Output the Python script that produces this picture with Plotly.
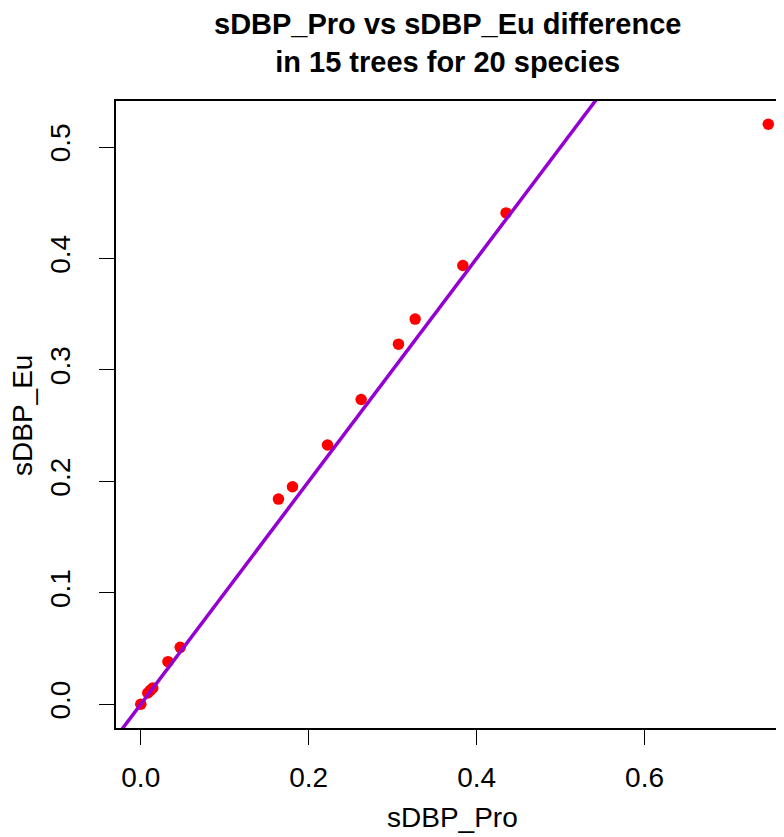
import plotly.graph_objects as go

# Data
sdbp_pro = [0.000, 0.0083, 0.0113, 0.0143, 0.0324, 0.0470, 0.1640, 0.1807,
            0.2224, 0.2625, 0.3069, 0.3268, 0.3836, 0.4351, 0.7474]
sdbp_eu = [0.000, 0.0101, 0.0124, 0.0146, 0.0382, 0.0511, 0.1841, 0.1952,
           0.2326, 0.2735, 0.3231, 0.3456, 0.3937, 0.4409, 0.5204]

# reference line y = intercept + slope * x
abline_intercept = 0.0
abline_slope = 1.0

x_ticks = [0.0, 0.2, 0.4, 0.6]
x_tick_labels = ["0.0", "0.2", "0.4", "0.6"]
y_ticks = [0.0, 0.1, 0.2, 0.3, 0.4, 0.5]
y_tick_labels = ["0.0", "0.1", "0.2", "0.3", "0.4", "0.5"]

x_range = [-0.0295, 0.7661]
y_range = [-0.0213, 0.5413]

FONT = "Liberation Sans, Arial, Helvetica, sans-serif"

line_x = [x_range[0] - 0.1, x_range[1] + 0.1]
line_y = [abline_intercept + abline_slope * v for v in line_x]

fig = go.Figure()
fig.add_trace(go.Scatter(
    x=sdbp_pro, y=sdbp_eu, mode="markers",
    marker=dict(color="#FF0000", size=11.5, line=dict(width=0)),
    showlegend=False, hoverinfo="skip"))
fig.add_trace(go.Scatter(
    x=line_x, y=line_y, mode="lines",
    line=dict(color="#9400D3", width=3.5),
    showlegend=False, hoverinfo="skip"))

fig.update_layout(
    width=776, height=829,
    margin=dict(l=108, r=0, t=93, b=109),
    paper_bgcolor="white", plot_bgcolor="white",
    font=dict(family=FONT, color="black", size=28),
    showlegend=False,
    xaxis=dict(range=x_range, tickvals=x_ticks, ticktext=x_tick_labels,
               ticks="outside", ticklen=15, tickwidth=1, tickcolor="black",
               showline=True, linecolor="black", linewidth=1.5, mirror=True,
               showgrid=False, zeroline=False,
               tickfont=dict(size=28, family=FONT, color="black"),
               ticklabelstandoff=9),
    yaxis=dict(range=y_range, tickvals=y_ticks, ticktext=y_tick_labels,
               ticks="outside", ticklen=15, tickwidth=1, tickcolor="black",
               showline=True, linecolor="black", linewidth=1.5, mirror=False,
               showgrid=False, zeroline=False, tickangle=-90,
               tickfont=dict(size=28, family=FONT, color="black"),
               ticklabelstandoff=18),
    annotations=[
        dict(text="<b>sDBP_Pro vs sDBP_Eu difference<br>in 15 trees for 20 species</b>",
             xref="paper", yref="paper", x=0.497, y=1.093,
             xanchor="center", yanchor="middle", showarrow=False,
             font=dict(size=29, family=FONT, color="black")),
        dict(text="sDBP_Pro", xref="paper", yref="paper", x=0.504, y=-0.1435,
             xanchor="center", yanchor="middle", showarrow=False,
             font=dict(size=28, family=FONT, color="black")),
        dict(text="sDBP_Eu", xref="paper", yref="paper", x=-0.1407, y=0.4976,
             xanchor="center", yanchor="middle", showarrow=False, textangle=-90,
             font=dict(size=28, family=FONT, color="black")),
    ],
)

fig.write_html("out.html")
